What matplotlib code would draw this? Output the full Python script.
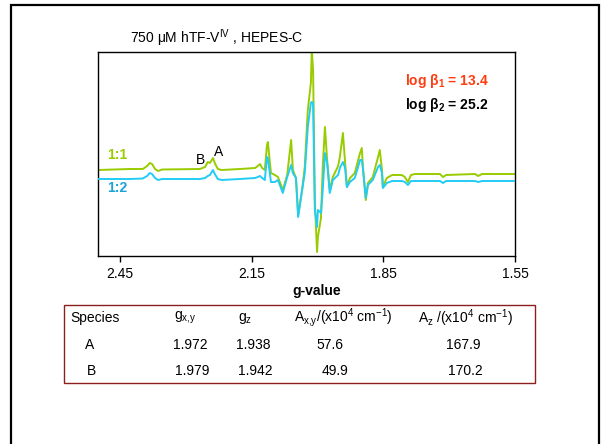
import matplotlib
matplotlib.use("Agg")
import matplotlib.pyplot as plt
from matplotlib.patches import Rectangle
import numpy as np

plt.rcParams['font.family'] = ['Liberation Sans', 'DejaVu Sans']
plt.rcParams['mathtext.default'] = 'regular'

# EPR spectra (g-value, arbitrary intensity)
g_vals = [2.500, 2.427, 2.398, 2.388, 2.382, 2.377, 2.370, 2.363, 2.354, 2.268,
          2.256, 2.250, 2.245, 2.238, 2.234, 2.227, 2.218, 2.177, 2.142, 2.136,
          2.131, 2.126, 2.120, 2.115, 2.113, 2.106, 2.097, 2.090, 2.079, 2.069,
          2.060, 2.056, 2.049, 2.044, 2.035, 2.029, 2.022, 2.015, 2.013, 2.010,
          2.006, 2.001, 1.999, 1.992, 1.988, 1.983, 1.978, 1.972, 1.965, 1.953,
          1.949, 1.942, 1.937, 1.933, 1.926, 1.915, 1.903, 1.899, 1.896, 1.890,
          1.885, 1.874, 1.862, 1.858, 1.853, 1.851, 1.842, 1.830, 1.808, 1.801,
          1.794, 1.787, 1.778, 1.721, 1.714, 1.707, 1.641, 1.634, 1.625, 1.550]

ratio_11 = [86, 87, 87, 90, 93, 92, 87, 85, 86.5, 87,
            89, 94, 93, 98, 93, 87, 86, 87, 88, 90,
            92, 88, 86, 111, 114, 83, 81, 79, 66, 81,
            116, 86, 78, 41, 66, 89, 146, 173, 206, 186,
            56, 4, 19, 38, 89, 129, 96, 66, 79, 90,
            99, 123, 93, 69, 78, 83, 103, 108, 86, 56,
            73, 79, 99, 106, 86, 69, 78, 81, 81, 79,
            74, 81, 82, 82, 79, 81, 82, 80, 82, 82]

ratio_12 = [77, 77, 77.5, 80, 83, 82, 78, 76, 77, 77,
            78, 80, 81, 86, 82, 77, 76, 77, 78, 79,
            80, 78, 76, 99, 98, 74, 74, 76, 63, 79,
            91, 83, 78, 39, 66, 83, 129, 153, 154, 153,
            46, 29, 46, 43, 66, 103, 93, 63, 76, 81,
            88, 94, 88, 69, 74, 78, 96, 96, 86, 58,
            71, 76, 89, 91, 83, 68, 73, 75, 75, 74,
            71, 75, 75, 75, 73, 75, 75, 74, 75, 75]

x_ticks = [2.45, 2.15, 1.85, 1.55]

# table values
species = ['A', 'B']
g_xy = ['1.972', '1.979']
g_z = ['1.938', '1.942']
A_xy = ['57.6', '49.9']
A_z = ['167.9', '170.2']

green = '#99CC00'
blue = '#22CCF5'

fig = plt.figure(figsize=(6.05, 4.44), dpi=100)
ax = fig.add_axes([98/605, 1-256/444, 417/605, 204/444])

ax.plot(g_vals, ratio_11, color=green, lw=1.4, zorder=2)
ax.plot(g_vals, ratio_12, color=blue, lw=1.4, zorder=3)

ax.set_xlim(2.50, 1.55)
ax.set_ylim(0, 204)
ax.set_xticks(x_ticks)
ax.set_xticklabels(['%.2f' % t for t in x_ticks])
ax.set_yticks([])
ax.tick_params(axis='x', direction='out', length=4, width=1, labelsize=10, pad=4)
for s in ax.spines.values():
    s.set_linewidth(1.0)
ax.set_xlabel('g-value', fontsize=10, fontweight='bold', labelpad=2, x=0.525)

ax.text(0.022, 0.495, '1:1', transform=ax.transAxes, color=green, fontsize=10,
        fontweight='bold', ha='left', va='center')
ax.text(0.022, 0.335, '1:2', transform=ax.transAxes, color='#1BA3D8', fontsize=10,
        fontweight='bold', ha='left', va='center')
ax.text(0.245, 0.47, 'B', transform=ax.transAxes, fontsize=10, ha='center', va='center')
ax.text(0.288, 0.51, 'A', transform=ax.transAxes, fontsize=10, ha='center', va='center')
ax.text(0.736, 0.858, r'log β$_{1}$ = 13.4', transform=ax.transAxes, color='#FF3B10',
        fontsize=10, fontweight='bold', ha='left', va='center')
ax.text(0.736, 0.74, r'log β$_{2}$ = 25.2', transform=ax.transAxes, color='black',
        fontsize=10, fontweight='bold', ha='left', va='center')

fig.text(130/605, 1-38/444, r'750 μM hTF-V$^{IV}$ , HEPES-C', fontsize=10,
         ha='left', va='center')

# slide frame
fig.patches.append(Rectangle((11/605, -0.1), 588/605, 1.1 - 5/444, transform=fig.transFigure,
                             fill=False, edgecolor='black', lw=1.6))

# table box
fig.patches.append(Rectangle((64/605, 1-383/444), 471/605, 78/444, transform=fig.transFigure,
                             fill=False, edgecolor='#8B1E1E', lw=1.0))

hy = 1-318/444
fig.text(70/605, hy, 'Species', fontsize=10, ha='left', va='center')
fig.text(185/605, hy, r'g$_{x{,}y}$', fontsize=10, ha='center', va='center')
fig.text(245/605, hy, r'g$_{z}$', fontsize=10, ha='center', va='center')
fig.text(343/605, hy, r'A$_{x{,}y}$/(x10$^{4}$ cm$^{-1}$)', fontsize=10, ha='center', va='center')
fig.text(466/605, hy, r'A$_{z}$ /(x10$^{4}$ cm$^{-1}$)', fontsize=10, ha='center', va='center')

row_y = [1-345/444, 1-371/444]
col_x = [[90, 190, 253, 330, 463], [92, 192, 255, 335, 465]]
for i in range(len(species)):
    vals = [species[i], g_xy[i], g_z[i], A_xy[i], A_z[i]]
    for v, cx in zip(vals, col_x[i]):
        fig.text(cx/605, row_y[i], v, fontsize=10, ha='center', va='center')

fig.savefig('out.png', dpi=100)
